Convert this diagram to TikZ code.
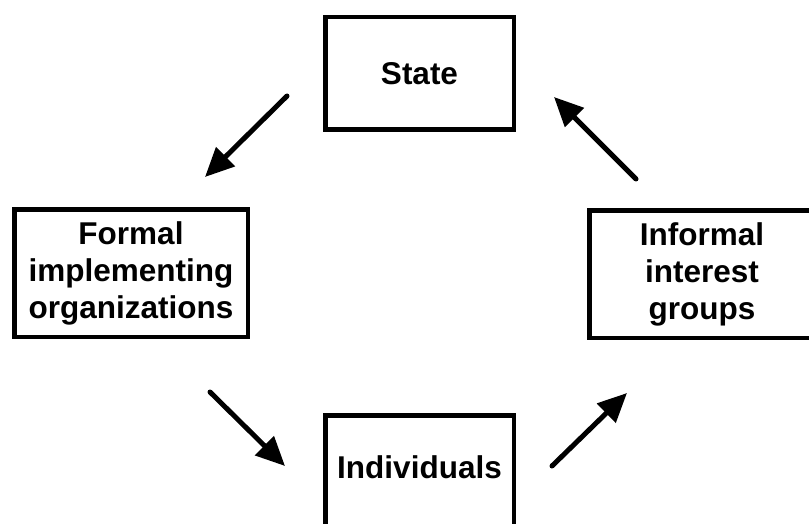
\documentclass[tikz,border=0pt]{standalone}
\usepackage{fontspec}
\setmainfont{Liberation Sans}
\usetikzlibrary{arrows.meta}
\begin{document}
\begin{tikzpicture}[x=1pt,y=-1pt,
  box/.style={draw=black,line width=4.5pt,fill=white,rectangle,inner sep=0pt,outer sep=0pt},
  lbl/.style={font=\fontsize{31.5}{37}\selectfont\bfseries,align=center,inner sep=0pt},
  flow/.style={line width=5pt,line cap=round,-{Triangle[length=29pt,width=26pt]}}]
\useasboundingbox (0,0) rectangle (809,524);
% boxes
\node[box,lbl,minimum width=188.5pt,minimum height=112.5pt] (state) at (419.5,73.5) {State};
\node[box,lbl,minimum width=233.5pt,minimum height=127.5pt] (formal) at (131,273) {Formal\\implementing\\organizations};
\node[box,lbl,minimum width=225.5pt,minimum height=127.5pt] (informal) at (702,274) {Informal\\interest\\groups};
\node[box,minimum width=188.5pt,minimum height=140pt,anchor=north] (indiv) at (419.5,415.25) {};
\node[lbl] (indivtext) at (419.5,467) {Individuals};
% arrow ends
\coordinate (a1s) at (287,96);  \coordinate (a1e) at (205,177);
\coordinate (a2s) at (210,392); \coordinate (a2e) at (285,466);
\coordinate (a3s) at (552,466); \coordinate (a3e) at (627,393);
\coordinate (a4s) at (636,179); \coordinate (a4e) at (554,97);
\draw[flow] (a1s) -- (a1e);
\draw[flow] (a2s) -- (a2e);
\draw[flow] (a3s) -- (a3e);
\draw[flow] (a4s) -- (a4e);
\end{tikzpicture}
\end{document}
